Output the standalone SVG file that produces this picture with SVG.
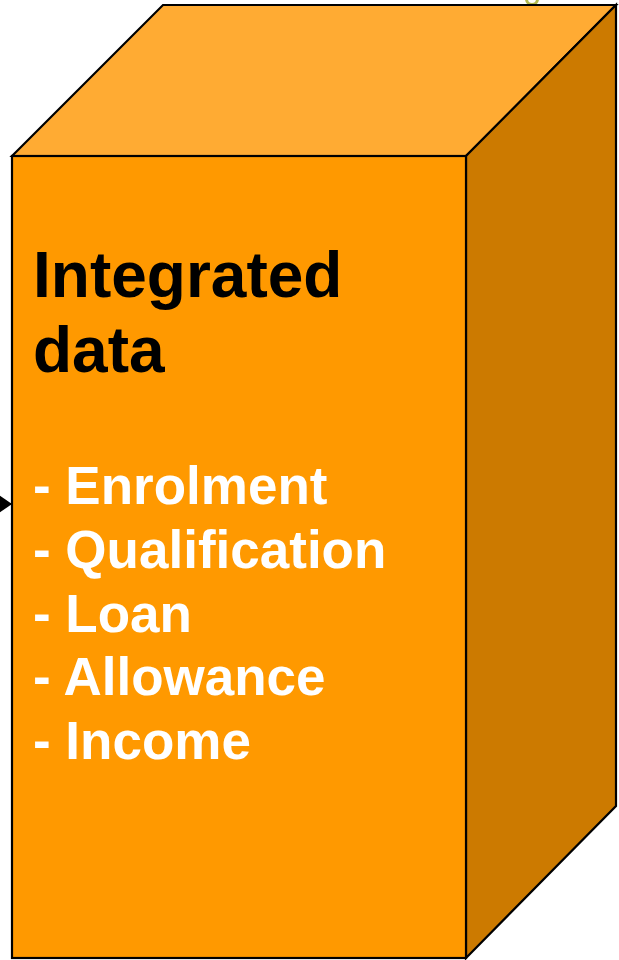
<svg xmlns="http://www.w3.org/2000/svg" width="619" height="960" viewBox="0 0 619 960">
<style>
.edge{stroke:#000;stroke-width:2.2;stroke-linejoin:miter}
.t{font-family:"Liberation Sans",Arial,sans-serif;font-weight:bold}
</style>
<defs>
<marker id="ah" markerWidth="13" markerHeight="18" refX="13" refY="9" orient="auto" markerUnits="userSpaceOnUse">
<path d="M0,0 L13,9 L0,18 Z" fill="#000"/>
</marker>
</defs>
<circle cx="532" cy="-1" r="5.5" fill="none" stroke="#b3b94f" stroke-width="3"/>
<g id="connectors">
<line x1="-30" y1="504" x2="12" y2="504" stroke="#000" stroke-width="2" marker-end="url(#ah)"/>
</g>
<g id="integrated-data">
<polygon class="edge" points="12,156 163,5 616,5 466,156" fill="#FFAB33"/>
<polygon class="edge" points="466,156 616,5 616,806 466,958" fill="#CC7A00"/>
<rect class="edge" x="12" y="156" width="454" height="802" fill="#FF9900"/>
<text class="t" x="33" y="297" font-size="64" fill="#000">Integrated</text>
<text class="t" x="33" y="372" font-size="64" fill="#000">data</text>
<g class="t" font-size="53" fill="#fff">
<text x="33" y="504">- Enrolment</text>
<text x="33" y="568">- Qualification</text>
<text x="33" y="632">- Loan</text>
<text x="33" y="695">- Allowance</text>
<text x="33" y="759">- Income</text>
</g>
</g>
</svg>
